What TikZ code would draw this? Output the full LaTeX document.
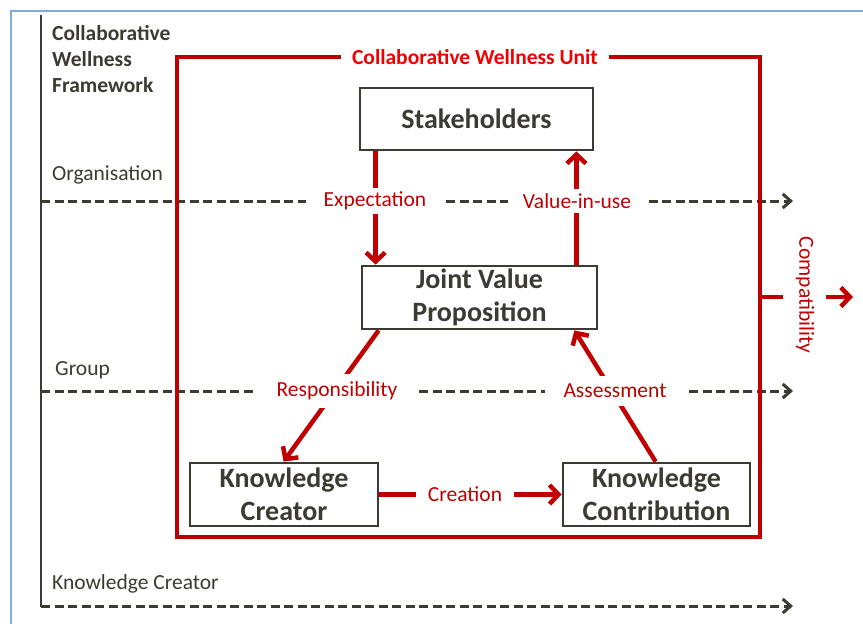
\documentclass[tikz,border=0pt]{standalone}
\usepackage{fontspec}
\setmainfont{Carlito}
\usetikzlibrary{arrows.meta}
\definecolor{dred}{HTML}{C00000}
\definecolor{bred}{HTML}{F00000}
\definecolor{ink}{HTML}{3B3A33}
\definecolor{frameblue}{HTML}{7FAEDD}
\tikzset{
  box/.style={draw=ink, line width=2.8pt, inner sep=0pt, align=center, text=ink,
    font=\fontsize{28}{33}\selectfont\bfseries},
  redline/.style={draw=dred, line width=4.5pt},
  redarrow/.style={redline, -{Straight Barb[length=9pt,width=19pt,line width=4.5pt]}},
  dashline/.style={draw=ink, line width=3pt, dash pattern=on 9pt off 4.5pt,
    -{Straight Barb[length=8pt,width=14pt,line width=3pt]}},
  lbl/.style={fill=white, text=dred, inner xsep=18pt, inner ysep=4pt,
    font=\fontsize{21.5}{26}\selectfont},
  lefttxt/.style={anchor=west, text=ink, inner sep=0pt, align=left,
    font=\fontsize{21.5}{26}\selectfont},
}
\begin{document}
\begin{tikzpicture}[x=1pt,y=-1pt]
\useasboundingbox (0,0) rectangle (863,624);
% light blue frame
\draw[frameblue, line width=2pt] (11,624) -- (11,10.5) -- (863,10.5);
% left axis
\draw[ink, line width=2.8pt] (41,15) -- (41,607);
\node[lefttxt, font=\fontsize{21.5}{26}\selectfont\bfseries] (title) at (52,59)
  {Collaborative\\Wellness\\Framework};
\node[lefttxt] (org) at (52,175) {Organisation};
\node[lefttxt] (grp) at (55,370) {Group};
\node[lefttxt] (kcr) at (52,584) {Knowledge Creator};
% level lines
\coordinate (o1) at (41,201); \coordinate (o2) at (793,201);
\coordinate (g1) at (41,391); \coordinate (g2) at (793,391);
\coordinate (k1) at (41,606); \coordinate (k2) at (793,606);
\draw[dashline] (o1) -- (o2);
\draw[dashline] (g1) -- (g2);
\draw[dashline] (k1) -- (k2);
% red unit rectangle
\draw[redline] (177,57) rectangle (760,537);
\node[fill=white, text=bred, inner xsep=11pt, inner ysep=4pt,
  font=\fontsize{21.5}{26}\selectfont\bfseries] (unit) at (475,57) {Collaborative Wellness Unit};
% compatibility
\coordinate (c1) at (760,297); \coordinate (c2) at (783,297);
\coordinate (c3) at (826,297); \coordinate (c4) at (853,297);
\draw[redline] (c1) -- (c2);
\node[text=dred, rotate=-90, inner sep=0pt, font=\fontsize{21.5}{26}\selectfont] (compat) at (805,295) {Compatibility};
\draw[redarrow] (c3) -- (c4);
% boxes
\node[box, minimum width=233pt, minimum height=62pt] (stake) at (476.5,119) {Stakeholders};
\node[box, minimum width=235pt, minimum height=63pt] (jvp) at (479.5,297.5) {Joint Value\\Proposition};
\node[box, minimum width=188pt, minimum height=63pt] (kc) at (284,494.5) {Knowledge\\Creator};
\node[box, minimum width=187pt, minimum height=63pt] (kcon) at (656.5,494.5) {Knowledge\\Contribution};
% connectors
\draw[redarrow] ([xshift=17pt]stake.south west) -- ([xshift=15pt]jvp.north west);
\draw[redarrow] ([xshift=-22pt]jvp.north east) -- ([xshift=-18pt]stake.south east);
\draw[redarrow] ([xshift=18pt]jvp.south west) -- ([xshift=95pt]kc.north west);
\draw[redarrow] ([xshift=94pt]kcon.north west) -- ([xshift=-24pt]jvp.south east);
\draw[redarrow] (kc.east) -- (kcon.west);
% labels
\node[lbl] (expect) at (375,201) {Expectation};
\node[lbl, inner xsep=15pt] (viu) at (577,201) {Value-in-use};
\node[lbl, inner xsep=21pt, inner ysep=8pt] (resp) at (337,391) {Responsibility};
\node[lbl, inner xsep=19pt, inner ysep=8pt] (assess) at (615,391) {Assessment};
\node[lbl, inner xsep=12pt] (creat) at (465,494) {Creation};
\end{tikzpicture}
\end{document}
